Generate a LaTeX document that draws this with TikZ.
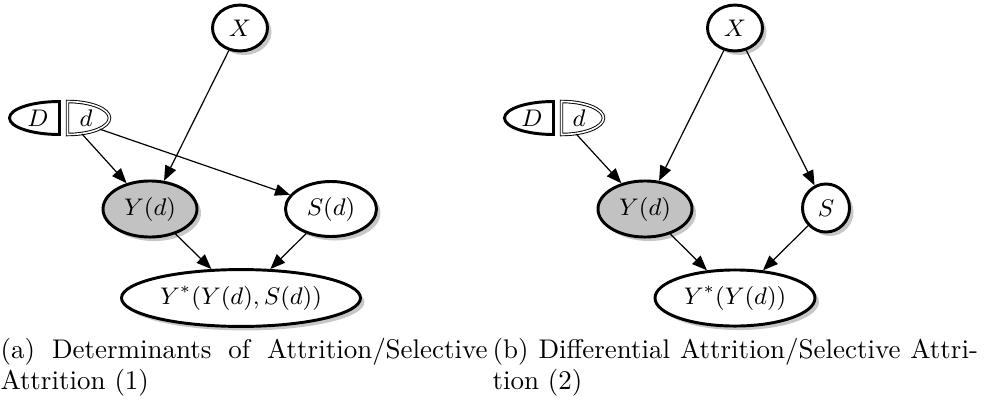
\documentclass[tikz,border=0pt]{standalone}
\usepackage{fontspec}
\usetikzlibrary{arrows.meta,shapes.geometric,shadows}
\begin{document}
\begin{tikzpicture}[x=0.3745pt,y=-0.3745pt,
  lbl/.style={font=\fontsize{9.2}{11}\selectfont},
  var/.style={ellipse, draw, line width=1.1pt, fill=white, inner sep=0pt, lbl,
    drop shadow={shadow xshift=1.5pt,shadow yshift=-1.5pt,fill=black!22,opacity=1}},
  obs/.style={var, fill=black!24},
  edge/.style={line width=0.45pt, -{Triangle[length=5.6pt,width=4.4pt]}},
  halfD/.style={line width=1.1pt},
  halfd/.style={double, double distance=0.6pt, line width=0.35pt},
  hole/.style={ellipse, inner sep=0pt, minimum width=31.5pt, minimum height=12.4pt},
  captext/.style={anchor=base west, inner sep=0pt, font=\fontsize{10.1}{12}\selectfont}]
\useasboundingbox (0,0) rectangle (990,403);

% ---------- panel (a) ----------
\draw[halfD] (59.5,101.5) arc[start angle=90, end angle=270, x radius=18.73pt, y radius=6.18pt] -- cycle;
\draw[halfd] (67.5,101.5) arc[start angle=90, end angle=-90, x radius=15.73pt, y radius=6.18pt] -- cycle;
\node[lbl] (DLl) at (38,118) {$D$};
\node[lbl] (dLl) at (86,118) {$d$};
\node[hole] (dL) at (67.5,118) {};

\node[var, minimum width=20.6pt, minimum height=17.2pt] (XL) at (240,28) {$X$};
\node[obs, minimum width=35.2pt, minimum height=21pt] (YL) at (150,209) {$Y(d)$};
\node[var, minimum width=34.1pt, minimum height=20.6pt] (SL) at (331,209) {$S(d)$};
\node[var, minimum width=89.5pt, minimum height=21.3pt] (YsL) at (241,298) {$Y^{*}(Y(d),S(d))$};

\draw[edge] (dL) -- (YL);
\draw[edge] (XL) -- (YL);
\draw[edge] (dL) -- (SL);
\draw[edge] (YL) -- (YsL);
\draw[edge] (SL) -- (YsL);

% ---------- panel (b) ----------
\draw[halfD] (553.5,101.5) arc[start angle=90, end angle=270, x radius=18.35pt, y radius=6.18pt] -- cycle;
\draw[halfd] (561.5,101.5) arc[start angle=90, end angle=-90, x radius=15.73pt, y radius=6.18pt] -- cycle;
\node[lbl] (DRl) at (532,118) {$D$};
\node[lbl] (dRl) at (579,118) {$d$};
\node[hole] (dR) at (561.5,118) {};

\node[var, minimum width=20.6pt, minimum height=17.2pt] (XR) at (735,28) {$X$};
\node[obs, minimum width=35.2pt, minimum height=21pt] (YR) at (645,209) {$Y(d)$};
\node[var, minimum width=17.6pt, minimum height=18pt] (SR) at (826,208) {$S$};
\node[var, minimum width=59.9pt, minimum height=21pt] (YsR) at (735,298) {$Y^{*}(Y(d))$};

\draw[edge] (dR) -- (YR);
\draw[edge] (XR) -- (YR);
\draw[edge] (XR) -- (SR);
\draw[edge] (YR) -- (YsR);
\draw[edge] (SR) -- (YsR);

% ---------- captions ----------
\node[captext] (capA1) at (0,358) {\makebox[182.4pt][s]{(a) Determinants of Attrition/Selective}};
\node[captext] (capA2) at (0,389) {Attrition (1)};
\node[captext] (capB1) at (492,358) {\makebox[181.8pt][s]{(b) Differential Attrition/Selective Attri-}};
\node[captext] (capB2) at (492,389) {tion (2)};
\end{tikzpicture}
\end{document}
